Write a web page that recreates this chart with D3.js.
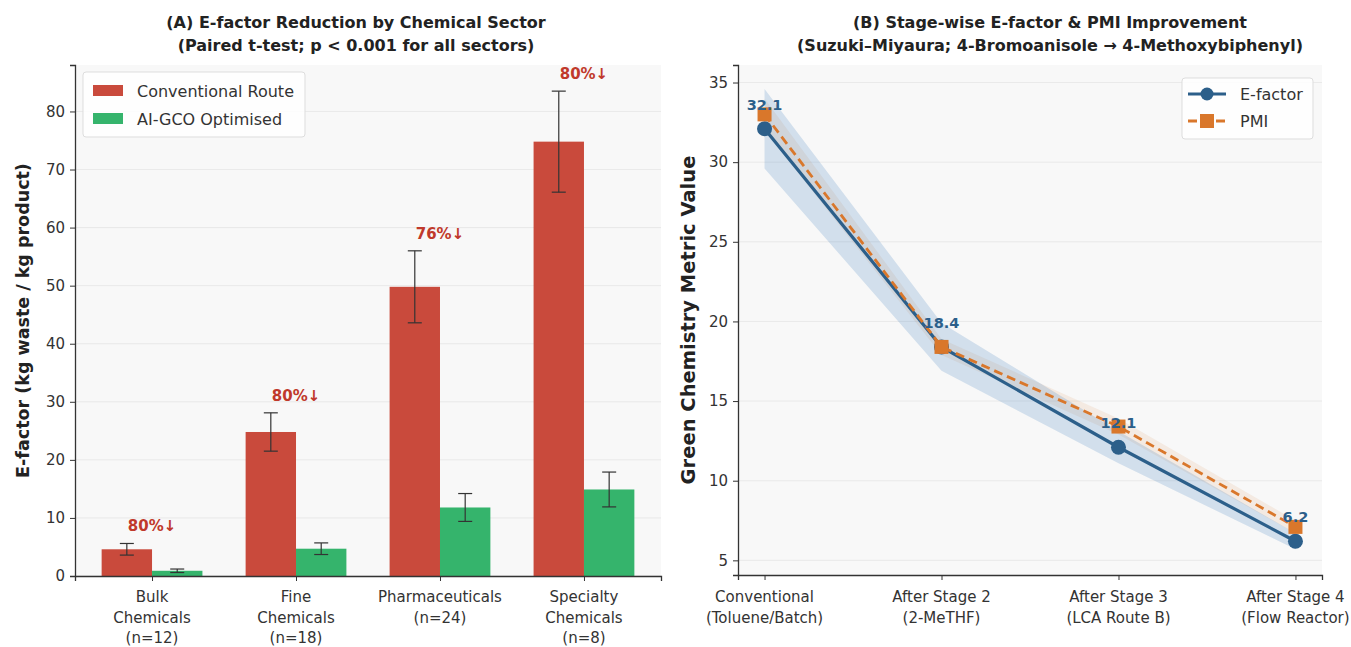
<!DOCTYPE html>
<html><head><meta charset="utf-8">
<script src="https://cdn.jsdelivr.net/npm/d3@7"></script>
<style>
body{margin:0;background:#fff;}
svg{display:block;font-family:"DejaVu Sans",sans-serif;}
</style></head>
<body><svg id="c" width="1351" height="647"></svg>
<script>
// ---------- Panel A data ----------
const sectors = [["Bulk","Chemicals","(n=12)"],["Fine","Chemicals","(n=18)"],["Pharmaceuticals","(n=24)"],["Specialty","Chemicals","(n=8)"]];
const convMean = [4.6, 24.8, 49.8, 74.8];
const convSD   = [1.0, 3.3, 6.2, 8.7];
const aiMean   = [0.9, 4.7, 11.8, 14.9];
const aiSD     = [0.3, 1.0, 2.4, 3.0];
const reductionLabels = ["80%↓","80%↓","76%↓","80%↓"];
const yTicksA = [0,10,20,30,40,50,60,70,80];

// ---------- Panel B data ----------
const stages = [["Conventional","(Toluene/Batch)"],["After Stage 2","(2-MeTHF)"],["After Stage 3","(LCA Route B)"],["After Stage 4","(Flow Reactor)"]];
const efactor = [32.1, 18.4, 12.1, 6.2];
const efLow   = [29.6, 16.9, 11.1, 5.7];
const efHigh  = [34.6, 19.9, 13.1, 6.7];
const pmi     = [33.0, 18.4, 13.4, 7.1];
const pmiLow  = [32.0, 17.9, 12.9, 6.7];
const pmiHigh = [34.0, 18.9, 13.9, 7.5];
const efLabels = ["32.1","18.4","12.1","6.2"];
const yTicksB = [5,10,15,20,25,30,35];

const RED="#c94a3c", GREEN="#35b46c", BLUE="#2c5f8a", ORANGE="#d9772b", DARK="#333";
const TICK=15;
const svg = d3.select("#c");

// ================= Panel A =================
const A = {x0:75, x1:661, y0:65, y1:576};
const xA = d3.scaleLinear().domain([-0.535, 3.535]).range([A.x0, A.x1]);
const yA = d3.scaleLinear().domain([0, 88]).range([A.y1, A.y0]);
const unitA = xA(1)-xA(0), bw = 0.35*unitA;
const gA = svg.append("g");
gA.append("rect").attr("x",A.x0).attr("y",A.y0).attr("width",A.x1-A.x0).attr("height",A.y1-A.y0).attr("fill","#f8f8f8");
gA.selectAll("line.grid").data(yTicksA).enter().append("line")
  .attr("x1",A.x0).attr("x2",A.x1).attr("y1",d=>yA(d)).attr("y2",d=>yA(d))
  .attr("stroke","#e4e4e4").attr("stroke-width",0.8);

function bars(g, means, sds, color, off){
  g.selectAll(null).data(means).enter().append("rect")
    .attr("x",(d,i)=>xA(i)+off).attr("width",bw)
    .attr("y",d=>yA(d)).attr("height",d=>yA(0)-yA(d)).attr("fill",color);
  means.forEach((m,i)=>{
    const cx = xA(i)+off+bw/2, t=yA(m+sds[i]), b=yA(Math.max(0,m-sds[i]));
    g.append("line").attr("x1",cx).attr("x2",cx).attr("y1",t).attr("y2",b).attr("stroke",DARK).attr("stroke-width",1.2);
    [t,b].forEach(yy=>g.append("line").attr("x1",cx-7).attr("x2",cx+7).attr("y1",yy).attr("y2",yy).attr("stroke",DARK).attr("stroke-width",1.2));
  });
}
bars(gA, convMean, convSD, RED, -bw);
bars(gA, aiMean, aiSD, GREEN, 0);
gA.selectAll("text.red").data(reductionLabels).enter().append("text")
  .attr("x",(d,i)=>xA(i)).attr("y",(d,i)=>yA(convMean[i]+convSD[i])-12)
  .attr("text-anchor","middle").attr("font-weight","bold").attr("font-size",15)
  .attr("fill","#c0392b").text(d=>d);

// axes A
const axLA = d3.axisLeft(yA).tickValues(yTicksA).tickSize(5).tickPadding(5);
const gyA = gA.append("g").attr("transform",`translate(${A.x0},0)`).call(axLA);
const axBA = d3.axisBottom(xA).tickValues([0,1,2,3]).tickSize(5).tickFormat("");
const gxA = gA.append("g").attr("transform",`translate(0,${A.y1})`).call(axBA);
[gyA,gxA].forEach(g=>{g.select(".domain").attr("stroke",DARK).attr("stroke-width",1.3);
  g.selectAll(".tick line").attr("stroke",DARK);
  g.selectAll(".tick text").attr("font-size",TICK).attr("fill","#333").attr("font-family","DejaVu Sans");});
sectors.forEach((lines,i)=>{
  const t = gA.append("text").attr("x",xA(i)).attr("y",A.y1+26).attr("text-anchor","middle").attr("font-size",TICK).attr("fill","#333");
  lines.forEach((s,k)=>t.append("tspan").attr("x",xA(i)).attr("dy",k?20.5:0).text(s));
});
gA.append("text").attr("transform",`translate(29,${(A.y0+A.y1)/2}) rotate(-90)`).attr("text-anchor","middle")
  .attr("font-weight","bold").attr("font-size",17.5).attr("fill","#222").text("E-factor (kg waste / kg product)");
const cA=(A.x0+A.x1)/2-12;
const tA = gA.append("text").attr("x",cA).attr("y",28).attr("text-anchor","middle").attr("font-weight","bold").attr("font-size",16).attr("fill","#222");
tA.append("tspan").attr("x",cA).text("(A) E-factor Reduction by Chemical Sector");
tA.append("tspan").attr("x",cA).attr("dy",23).text("(Paired t-test; p < 0.001 for all sectors)");
// legend A
const lgA = gA.append("g").attr("transform","translate(83,72)");
lgA.append("rect").attr("width",222).attr("height",65).attr("rx",3).attr("fill","#fff").attr("fill-opacity",0.85).attr("stroke","#ddd");
[["Conventional Route",RED],["AI-GCO Optimised",GREEN]].forEach((d,k)=>{
  lgA.append("rect").attr("x",10).attr("y",13+k*28).attr("width",30).attr("height",11).attr("fill",d[1]);
  lgA.append("text").attr("x",54).attr("y",25+k*28).attr("font-size",16).attr("fill","#333").text(d[0]);
});

// ================= Panel B =================
const B = {x0:738, x1:1322, y0:65, y1:575};
const xB = d3.scaleLinear().domain([-0.15, 3.15]).range([B.x0, B.x1]);
const yB = d3.scaleLinear().domain([4.08, 36.1]).range([B.y1, B.y0]);
const gB = svg.append("g");
gB.append("rect").attr("x",B.x0).attr("y",B.y0).attr("width",B.x1-B.x0).attr("height",B.y1-B.y0).attr("fill","#f8f8f8");
gB.selectAll(null).data(yTicksB).enter().append("line")
  .attr("x1",B.x0).attr("x2",B.x1).attr("y1",d=>yB(d)).attr("y2",d=>yB(d))
  .attr("stroke","#e4e4e4").attr("stroke-width",0.8);
const idx=[0,1,2,3];
const area = (lo,hi)=>d3.area().x(i=>xB(i)).y0(i=>yB(lo[i])).y1(i=>yB(hi[i]));
gB.append("path").datum(idx).attr("d",area(pmiLow,pmiHigh)).attr("fill",ORANGE).attr("fill-opacity",0.1);
gB.append("path").datum(idx).attr("d",area(efLow,efHigh)).attr("fill","#3b7bbf").attr("fill-opacity",0.2);
const ln = arr=>d3.line().x(i=>xB(i)).y(i=>yB(arr[i]));
gB.append("path").datum(idx).attr("d",ln(efactor)).attr("fill","none").attr("stroke",BLUE).attr("stroke-width",3.2);
gB.selectAll(null).data(efactor).enter().append("circle").attr("cx",(d,i)=>xB(i)).attr("cy",d=>yB(d)).attr("r",7.5).attr("fill",BLUE);
gB.append("path").datum(idx).attr("d",ln(pmi)).attr("fill","none").attr("stroke",ORANGE).attr("stroke-width",2.8).attr("stroke-dasharray","9,5");
gB.selectAll(null).data(pmi).enter().append("rect").attr("x",(d,i)=>xB(i)-7).attr("y",d=>yB(d)-7).attr("width",14).attr("height",14).attr("fill",ORANGE);
gB.selectAll(null).data(efLabels).enter().append("text")
  .attr("x",(d,i)=>xB(i)).attr("y",(d,i)=>yB(efactor[i])-19).attr("text-anchor","middle")
  .attr("font-weight","bold").attr("font-size",14.5).attr("fill",BLUE).text(d=>d);

const gyB = gB.append("g").attr("transform",`translate(${B.x0},0)`).call(d3.axisLeft(yB).tickValues(yTicksB).tickSize(5).tickPadding(5));
const gxB = gB.append("g").attr("transform",`translate(0,${B.y1})`).call(d3.axisBottom(xB).tickValues(idx).tickSize(5).tickFormat(""));
[gyB,gxB].forEach(g=>{g.select(".domain").attr("stroke",DARK).attr("stroke-width",1.3);
  g.selectAll(".tick line").attr("stroke",DARK);
  g.selectAll(".tick text").attr("font-size",TICK).attr("fill","#333").attr("font-family","DejaVu Sans");});
stages.forEach((lines,i)=>{
  const t = gB.append("text").attr("x",xB(i)).attr("y",B.y1+27).attr("text-anchor","middle").attr("font-size",TICK).attr("fill","#333");
  lines.forEach((s,k)=>t.append("tspan").attr("x",xB(i)).attr("dy",k?21:0).text(s));
});
gB.append("text").attr("transform",`translate(695,${(B.y0+B.y1)/2}) rotate(-90)`).attr("text-anchor","middle")
  .attr("font-weight","bold").attr("font-size",19.5).attr("fill","#222").text("Green Chemistry Metric Value");
const cB=1050;
const tB = gB.append("text").attr("x",cB).attr("y",28).attr("text-anchor","middle").attr("font-weight","bold").attr("font-size",16).attr("fill","#222");
tB.append("tspan").attr("x",cB).text("(B) Stage-wise E-factor & PMI Improvement");
tB.append("tspan").attr("x",cB).attr("dy",23).text("(Suzuki–Miyaura; 4-Bromoanisole → 4-Methoxybiphenyl)");
const lgB = gB.append("g").attr("transform","translate(1182,78)");
lgB.append("rect").attr("width",131).attr("height",61).attr("rx",3).attr("fill","#fff").attr("fill-opacity",0.85).attr("stroke","#ddd");
lgB.append("line").attr("x1",6).attr("x2",44).attr("y1",16).attr("y2",16).attr("stroke",BLUE).attr("stroke-width",3);
lgB.append("circle").attr("cx",25).attr("cy",16).attr("r",6.5).attr("fill",BLUE);
lgB.append("line").attr("x1",6).attr("x2",44).attr("y1",43).attr("y2",43).attr("stroke",ORANGE).attr("stroke-width",2.8).attr("stroke-dasharray","9,5");
lgB.append("rect").attr("x",18).attr("y",36).attr("width",14).attr("height",14).attr("fill",ORANGE);
lgB.append("text").attr("x",58).attr("y",22).attr("font-size",16).attr("fill","#333").text("E-factor");
lgB.append("text").attr("x",58).attr("y",49).attr("font-size",16).attr("fill","#333").text("PMI");
</script></body></html>
